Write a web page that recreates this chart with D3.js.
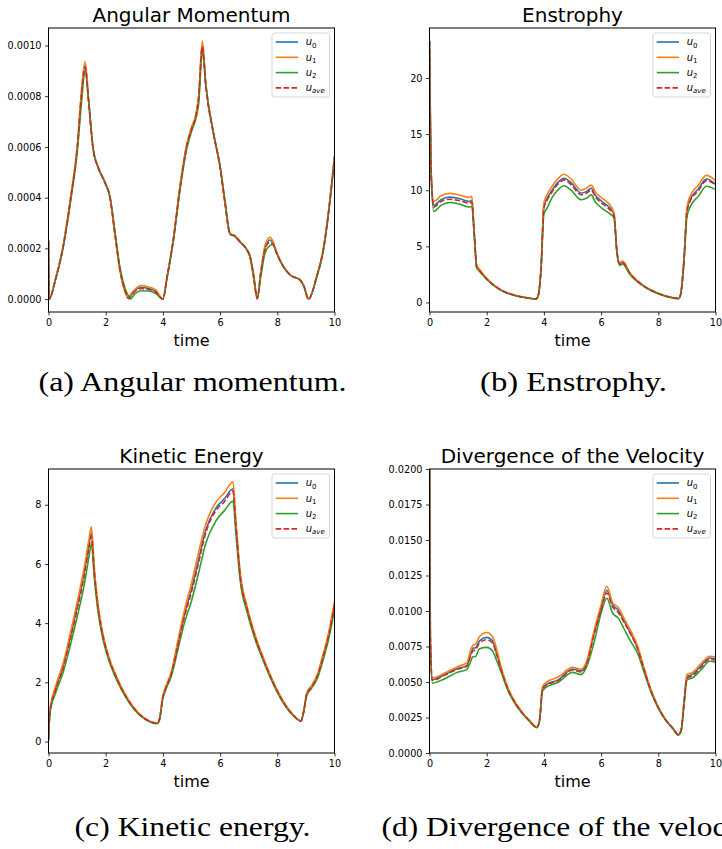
<!DOCTYPE html>
<html><head><meta charset="utf-8">
<script src="https://cdn.jsdelivr.net/npm/d3@7"></script>
<style>body{margin:0;background:#fff;} svg{display:block;}</style>
</head><body><svg id="fig" width="722" height="849"></svg>
<script>
// ---------- data ----------
const xTicks = [0, 2, 4, 6, 8, 10];
const yTicksA = [0, 0.0002, 0.0004, 0.0006, 0.0008, 0.0010];
const yTicksB = [0, 5, 10, 15, 20];
const yTicksC = [0, 2, 4, 6, 8];
const yTicksD = [0, 0.0025, 0.005, 0.0075, 0.01, 0.0125, 0.015, 0.0175, 0.02];
const seriesNames = ["u0", "u1", "u2", "uave"];
const legendSubs = ["0", "1", "2", "ave"];
const titles = ["Angular Momentum", "Enstrophy", "Kinetic Energy", "Divergence of the Velocity"];
const captions = ["(a) Angular momentum.", "(b) Enstrophy.", "(c) Kinetic energy.", "(d) Divergence of the velocity."];

// Angular momentum (units of 1e-4)
const tA = [0,0.02,0.25,0.5,0.78,1.01,1.15,1.28,1.4,1.56,1.75,1.97,2.15,2.32,2.5,2.67,2.8,2.87,3.0,3.25,3.5,3.75,4.0,4.15,4.36,4.6,4.83,5.0,5.15,5.25,5.38,5.5,5.77,6.0,6.17,6.35,6.5,6.7,6.93,7.05,7.17,7.3,7.42,7.58,7.75,7.85,7.98,8.2,8.45,8.8,8.93,9.09,9.38,9.61,9.79,10];
const angU0 = [2.3,0,0.8,2.0,4.02,6.02,8.05,9.25,7.85,5.92,5.15,4.6,4.0,2.6,1.15,0.33,0.02,0.12,0.32,0.46,0.42,0.3,0.0,0.9,2.3,4.4,6.02,6.72,7.22,7.95,10.05,8.45,6.52,5.2,3.8,2.55,2.5,2.25,1.95,1.65,0.9,0.02,1.02,2.05,2.33,2.2,1.82,1.3,0.95,0.75,0.5,0.0,0.9,1.95,3.42,5.62];
const angU1 = [2.3,0,0.82,2.05,4.1,6.1,8.2,9.37,7.95,5.95,5.18,4.62,4.0,2.55,1.1,0.3,0.05,0.18,0.36,0.53,0.48,0.36,0.0,0.92,2.35,4.5,6.1,6.78,7.28,8.05,10.18,8.5,6.55,5.2,3.78,2.55,2.52,2.27,1.95,1.63,0.85,0.02,1.08,2.15,2.44,2.28,1.85,1.32,0.96,0.76,0.5,0.0,0.92,2.0,3.45,5.65];
const angU2 = [2.3,0,0.78,1.95,3.9,5.85,7.7,9.0,7.85,5.95,5.15,4.62,4.05,2.7,1.25,0.45,0.12,0.0,0.18,0.33,0.32,0.22,0.0,0.85,2.25,4.3,5.9,6.6,7.1,7.7,9.78,8.45,6.55,5.25,3.9,2.6,2.48,2.25,1.97,1.7,1.0,0.05,0.85,1.85,2.12,2.16,1.8,1.3,0.95,0.75,0.52,0.02,0.85,1.9,3.35,5.5];
const angAve = [2.3,0,0.8,2.0,4.0,6.0,8.0,9.15,7.8,5.9,5.15,4.6,4.0,2.6,1.15,0.35,0.03,0.1,0.28,0.42,0.38,0.28,0.0,0.9,2.3,4.4,6.0,6.7,7.2,7.9,9.95,8.4,6.5,5.2,3.8,2.55,2.5,2.25,1.95,1.65,0.9,0.02,1.0,2.0,2.25,2.15,1.8,1.3,0.95,0.75,0.5,0.0,0.9,1.95,3.4,5.6];

// Enstrophy
const tB = [0,0.05,0.15,0.4,0.7,1.0,1.4,1.48,1.56,1.65,1.72,2.0,2.5,3.0,3.5,3.72,3.8,3.9,4.0,4.1,4.3,4.5,4.7,4.95,5.3,5.5,5.65,5.8,6.0,6.25,6.45,6.55,6.65,6.75,7.0,7.5,8.0,8.5,8.72,8.8,8.9,9.0,9.1,9.4,9.68,10];
const ensU0 = [23.3,12.1,8.65,9.15,9.38,9.28,9.0,9.1,6.35,3.2,2.95,2.1,1.1,0.62,0.38,0.3,0.6,3.05,8.55,9.2,10.05,10.72,11.07,10.67,9.75,9.9,10.18,9.55,9.05,8.55,7.9,4.65,3.42,3.57,2.62,1.45,0.8,0.42,0.35,1.0,3.85,8.15,9.1,10.1,11.0,10.55];
const ensU1 = [23.3,12.3,9.0,9.5,9.72,9.6,9.35,9.45,6.5,3.3,3.05,2.15,1.12,0.63,0.38,0.3,0.62,3.15,8.85,9.55,10.4,11.05,11.42,11.0,10.0,10.2,10.45,9.85,9.35,8.85,8.0,4.7,3.55,3.7,2.68,1.48,0.82,0.43,0.35,1.02,3.95,8.4,9.4,10.45,11.32,10.85];
const ensU2 = [23.3,11.8,8.1,8.65,8.9,8.8,8.5,8.55,6.1,3.05,2.85,2.05,1.08,0.6,0.37,0.3,0.58,2.9,7.9,8.35,9.4,10.05,10.4,10.0,9.15,9.3,9.58,8.95,8.45,8.0,7.55,4.45,3.3,3.42,2.52,1.42,0.78,0.41,0.35,0.98,3.7,7.6,8.45,9.45,10.35,10.05];
const ensAve = [23.3,12.0,8.5,9.0,9.2,9.1,8.85,8.95,6.3,3.2,2.95,2.1,1.1,0.62,0.38,0.3,0.6,3.0,8.4,9.05,9.9,10.55,10.92,10.5,9.6,9.75,10.03,9.4,8.9,8.4,7.75,4.6,3.4,3.55,2.6,1.45,0.8,0.42,0.35,1.0,3.8,8.0,8.95,9.95,10.85,10.5];

// Kinetic energy
const tC = [0,0.05,0.25,0.5,0.75,1.0,1.25,1.4,1.5,1.6,1.7,1.85,2.05,2.4,2.75,3.2,3.55,3.8,3.88,4.0,4.1,4.3,4.5,4.75,5.0,5.25,5.5,5.85,6.15,6.45,6.55,6.7,6.95,7.2,7.5,7.85,8.2,8.55,8.83,8.92,9.03,9.2,9.4,9.6,9.8,10];
const keU0 = [0.05,1.02,1.8,2.5,3.48,4.55,5.72,6.57,7.05,5.78,4.8,3.85,3.02,2.12,1.46,0.9,0.68,0.62,0.76,1.52,1.82,2.33,3.2,4.28,5.15,6.15,7.15,7.88,8.2,8.54,7.35,5.65,4.48,3.62,2.82,2.01,1.36,0.9,0.7,1.0,1.62,1.87,2.22,2.88,3.63,4.65];
const keU1 = [0.05,1.05,1.88,2.6,3.6,4.7,5.88,6.75,7.25,5.9,4.88,3.9,3.06,2.15,1.48,0.92,0.69,0.62,0.77,1.55,1.86,2.38,3.3,4.42,5.35,6.4,7.35,8.08,8.4,8.77,7.5,5.75,4.55,3.68,2.86,2.04,1.38,0.91,0.7,1.02,1.65,1.9,2.27,2.95,3.7,4.75];
const keU2 = [0.05,0.95,1.65,2.3,3.2,4.2,5.3,6.15,6.67,5.55,4.62,3.7,2.92,2.05,1.42,0.88,0.66,0.6,0.72,1.45,1.75,2.22,3.0,4.0,4.75,5.7,6.7,7.45,7.8,8.12,7.05,5.45,4.35,3.52,2.75,1.96,1.32,0.88,0.69,0.98,1.55,1.8,2.13,2.75,3.48,4.45];
const keAve = [0.05,1.0,1.75,2.45,3.4,4.45,5.6,6.45,6.93,5.7,4.75,3.8,3.0,2.1,1.45,0.9,0.68,0.62,0.75,1.5,1.8,2.3,3.15,4.2,5.05,6.05,7.05,7.8,8.1,8.46,7.3,5.6,4.45,3.6,2.8,2.0,1.35,0.9,0.7,1.0,1.6,1.85,2.2,2.85,3.6,4.62];

// Divergence of the velocity (units of 1e-3)
const tD = [0,0.03,0.1,0.5,1.0,1.3,1.45,1.52,1.6,1.75,2.0,2.2,2.35,2.5,2.75,3.0,3.25,3.5,3.75,3.85,3.95,4.05,4.5,5.0,5.3,5.5,5.75,6.0,6.2,6.4,6.6,6.8,7.0,7.3,7.5,7.75,8.0,8.25,8.5,8.7,8.8,8.9,9.0,9.2,9.5,9.8,10];
const divU0 = [21,8.1,5.16,5.5,5.96,6.15,7.0,7.39,7.4,7.9,8.14,7.9,7.0,5.95,4.48,3.52,2.82,2.26,1.81,2.32,4.55,4.78,5.15,5.92,5.78,6.38,8.42,10.21,11.46,10.45,10.05,9.3,8.55,7.25,5.92,4.36,3.21,2.36,1.76,1.28,1.62,3.55,5.35,5.55,6.15,6.69,6.65];
const divU1 = [21,8.3,5.28,5.6,6.1,6.34,7.3,7.6,7.65,8.2,8.49,8.2,7.3,6.1,4.55,3.58,2.86,2.28,1.83,2.36,4.65,4.93,5.35,6.03,5.9,6.5,8.6,10.45,11.74,10.6,10.25,9.5,8.75,7.4,6.0,4.4,3.25,2.38,1.78,1.3,1.64,3.62,5.52,5.68,6.32,6.81,6.78];
const divU2 = [21,7.6,4.93,5.2,5.7,5.87,6.5,6.8,6.78,7.35,7.44,7.2,6.5,5.72,4.35,3.45,2.77,2.22,1.78,2.25,4.35,4.58,4.98,5.68,5.52,6.1,7.75,9.86,10.9,9.86,9.5,8.75,7.98,6.9,5.7,4.25,3.15,2.32,1.74,1.27,1.55,3.4,5.12,5.3,5.87,6.46,6.4];
const divAve = [21,8.0,5.12,5.45,5.92,6.1,6.9,7.2,7.25,7.75,7.98,7.75,6.9,5.9,4.45,3.5,2.8,2.25,1.8,2.3,4.5,4.72,5.1,5.85,5.7,6.3,8.3,10.1,11.27,10.3,9.9,9.2,8.5,7.2,5.9,4.35,3.2,2.35,1.75,1.28,1.6,3.5,5.25,5.45,6.05,6.6,6.55];

// ---------- drawing ----------
const colors = ["#1f77b4", "#ff7f0e", "#2ca02c", "#d62728"];
const sans = "'DejaVu Sans', sans-serif";
const svg = d3.select("#fig");
svg.append("rect").attr("width", 722).attr("height", 849).attr("fill", "#fff");

const panels = [
  {t: tA, s: [angU0, angU1, angU2, angAve], unit: 1e-4, box: [48.5, 28, 334.5, 312], yTicks: yTicksA, fmt: d3.format(".4f"), yLim: null, capW: 308, capY: 391},
  {t: tB, s: [ensU0, ensU1, ensU2, ensAve], unit: 1, box: [429.5, 28, 715.5, 312], yTicks: yTicksB, fmt: d3.format("d"), yLim: null, capW: 187, capY: 391},
  {t: tC, s: [keU0, keU1, keU2, keAve], unit: 1, box: [48.5, 469, 334.5, 753], yTicks: yTicksC, fmt: d3.format("d"), yLim: null, capW: 236, capY: 836},
  {t: tD, s: [divU0, divU1, divU2, divAve], unit: 1e-3, box: [429.5, 469, 715.5, 753], yTicks: yTicksD, fmt: d3.format(".4f"), yLim: [0, 0.02], capW: 384, capY: 836}
];

panels.forEach((p, i) => {
  const [L, T, R, B] = p.box;
  const x = d3.scaleLinear().domain([0, 10]).range([L, R]);
  let dom = p.yLim;
  if (!dom) {
    const all = p.s.flat().map(v => v * p.unit);
    const mn = d3.min(all), mx = d3.max(all), pad = (mx - mn) * 0.05;
    dom = [mn - pad, mx + pad];
  }
  const y = d3.scaleLinear().domain(dom).range([B, T]);
  const g = svg.append("g");

  g.append("clipPath").attr("id", "clip" + i).append("rect")
    .attr("x", L).attr("y", T).attr("width", R - L).attr("height", B - T);

  const line = d3.line().x(d => x(d[0])).y(d => y(d[1])).curve(d3.curveMonotoneX);
  p.s.forEach((arr, k) => {
    g.append("path")
      .datum(arr.map((v, j) => [p.t[j], v * p.unit]))
      .attr("d", line)
      .attr("clip-path", `url(#clip${i})`)
      .attr("fill", "none")
      .attr("stroke", colors[k])
      .attr("stroke-width", 1.6)
      .attr("stroke-linejoin", "round")
      .attr("stroke-dasharray", k === 3 ? "5.5,2.4" : null);
  });

  // axes
  const xa = g.append("g").attr("transform", `translate(0,${B})`)
    .call(d3.axisBottom(x).tickValues(xTicks).tickSize(3.5).tickPadding(3.5).tickFormat(d3.format("d")));
  const ya = g.append("g").attr("transform", `translate(${L},0)`)
    .call(d3.axisLeft(y).tickValues(p.yTicks).tickSize(3.5).tickPadding(3.5).tickFormat(p.fmt));
  [xa, ya].forEach(a => {
    a.select(".domain").remove();
    a.selectAll("line").attr("stroke", "#000").attr("stroke-width", 0.8);
    a.selectAll("text").attr("fill", "#000").style("font-family", sans).style("font-size", "9.7px");
  });
  g.append("rect").attr("x", L).attr("y", T).attr("width", R - L).attr("height", B - T)
    .attr("fill", "none").attr("stroke", "#000").attr("stroke-width", 1);

  // title, axis label
  g.append("text").attr("x", (L + R) / 2).attr("y", T - 6).attr("text-anchor", "middle")
    .style("font-family", sans).style("font-size", "20px").attr("fill", "#000").text(titles[i]);
  g.append("text").attr("x", (L + R) / 2).attr("y", B + 34).attr("text-anchor", "middle")
    .style("font-family", sans).style("font-size", "16px").attr("fill", "#000").text("time");

  // legend
  const lw = 57.5, lh = 64;
  const lg = g.append("g").attr("transform", `translate(${R - 5 - lw},${T + 5})`);
  lg.append("rect").attr("width", lw).attr("height", lh).attr("rx", 2.5)
    .attr("fill", "#fff").attr("fill-opacity", 0.8).attr("stroke", "#d0d0d0").attr("stroke-width", 0.9);
  seriesNames.forEach((n, k) => {
    const cy = 9 + k * 15.3;
    lg.append("line").attr("x1", 3.7).attr("x2", 26).attr("y1", cy).attr("y2", cy)
      .attr("stroke", colors[k]).attr("stroke-width", 1.6)
      .attr("stroke-dasharray", k === 3 ? "5.5,2.4" : null);
    const tx = lg.append("text").attr("x", 33.7).attr("y", cy + 3.3)
      .style("font-family", sans).style("font-size", "10px").attr("fill", "#000");
    tx.append("tspan").style("font-style", "italic").text("u");
    tx.append("tspan").attr("dy", 2.2).style("font-size", "7px")
      .style("font-style", k === 3 ? "italic" : "normal").text(legendSubs[k]);
  });

  // caption
  svg.append("text").attr("x", (L + R) / 2 + 1 - p.capW / 2).attr("y", p.capY)
    .attr("textLength", p.capW).attr("lengthAdjust", "spacingAndGlyphs")
    .style("font-family", "'Liberation Serif', serif").style("font-size", "28px")
    .attr("fill", "#000").text(captions[i]);
});
</script></body></html>
